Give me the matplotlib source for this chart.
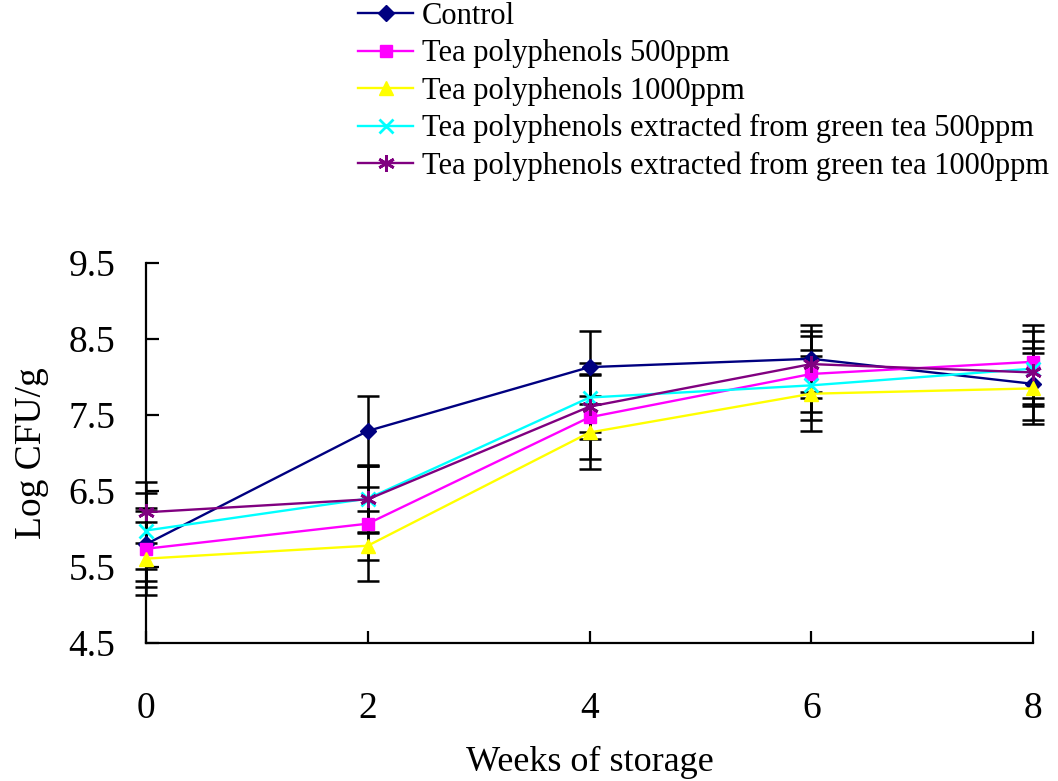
import matplotlib
matplotlib.use("Agg")
import matplotlib.pyplot as plt

weeks = [0, 2, 4, 6, 8]
series_names = [
    "Control",
    "Tea polyphenols 500ppm",
    "Tea polyphenols 1000ppm",
    "Tea polyphenols extracted from green tea 500ppm",
    "Tea polyphenols extracted from green tea 1000ppm",
]
control = [5.80, 7.29, 8.13, 8.24, 7.91]
tp500 = [5.74, 6.07, 7.47, 8.04, 8.20]
tp1000 = [5.61, 5.78, 7.27, 7.78, 7.85]
gt500 = [5.98, 6.40, 7.73, 7.89, 8.11]
gt1000 = [6.22, 6.39, 7.61, 8.17, 8.06]

control_err = [0.48, 0.46, 0.48, 0.44, 0.47]
tp500_err = [0.50, 0.48, 0.55, 0.50, 0.48]
tp1000_err = [0.48, 0.46, 0.48, 0.49, 0.47]
gt500_err = [0.50, 0.44, 0.45, 0.46, 0.49]
gt1000_err = [0.40, 0.44, 0.43, 0.44, 0.41]

yticks = [4.5, 5.5, 6.5, 7.5, 8.5, 9.5]
xticks = [0, 2, 4, 6, 8]

plt.rcParams['font.family'] = ['Liberation Serif', 'DejaVu Serif']

fig = plt.figure(figsize=(10.58, 7.81), dpi=100)
ax = fig.add_axes([146/1058, 1-643/781, (1033-146)/1058, (643-263)/781])

data = [control, tp500, tp1000, gt500, gt1000]
errs = [control_err, tp500_err, tp1000_err, gt500_err, gt1000_err]
colors = ["#000080", "#FF00FF", "#FFFF00", "#00FFFF", "#800080"]
markers = ["D", "s", "^", "x", (6, 2, 0)]
msizes = [8, 8, 10, 10, 12]

# error bars first (black), lines on top
for vals, e in zip(data, errs):
    ax.errorbar(weeks, vals, yerr=e, fmt='none', ecolor='black',
                elinewidth=1.8, capsize=8, capthick=1.8, zorder=2, clip_on=False)

handles = []
for vals, c, m, ms, name in zip(data, colors, markers, msizes, series_names):
    mew = 2 if m in ("x",) or isinstance(m, tuple) else 1
    h, = ax.plot(weeks, vals, color=c, marker=m, markersize=ms, linewidth=1.7,
                 markeredgewidth=mew, markerfacecolor=c, markeredgecolor=c,
                 label=name, zorder=3, clip_on=False)
    handles.append(h)

ax.set_xlim(0, 8)
ax.set_ylim(4.5, 9.5)
ax.set_xticks(xticks)
ax.set_yticks(yticks)
ax.set_yticklabels([f"{v:.1f}" for v in yticks])
ax.spines['top'].set_visible(False)
ax.spines['right'].set_visible(False)
for s in ('left', 'bottom'):
    ax.spines[s].set_linewidth(1.6)
ax.tick_params(axis='both', direction='in', length=9, width=1.6, labelsize=27)
ax.tick_params(axis='y', pad=22)
ax.tick_params(axis='x', pad=35)

ax.set_xlabel("Weeks of storage", fontsize=26, labelpad=14)
ax.set_ylabel("Log CFU/g", fontsize=27, labelpad=14)

leg = fig.legend(handles=handles, loc='upper left',
                 bbox_to_anchor=(358/1058, 1-2/781), frameon=False,
                 fontsize=22, handlelength=1.8, handletextpad=0.3,
                 labelspacing=0.27, borderpad=0, borderaxespad=0)

fig.savefig("out.png", dpi=100)
